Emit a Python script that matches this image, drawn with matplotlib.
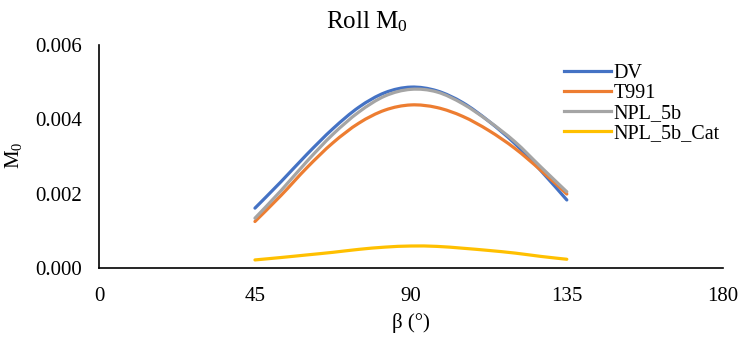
"""
Roll M0 vs beta: four smoothed series drawn Excel-style.
"""
import numpy as np
import matplotlib
matplotlib.use("Agg")
import matplotlib.pyplot as plt
from matplotlib.path import Path
from matplotlib.patches import PathPatch
from matplotlib.lines import Line2D

plt.rcParams["font.family"] = ["Liberation Serif", "DejaVu Serif"]
plt.rcParams["mathtext.fontset"] = "custom"
plt.rcParams["mathtext.rm"] = "Liberation Serif"
plt.rcParams["mathtext.it"] = "Liberation Serif:italic"

# --- data -----------------------------------------------------------------
beta = [45, 52.5, 60, 67.5, 75, 82.5, 90, 97.5, 105, 112.5, 120, 127.5, 135]
dv        = [0.00161, 0.00232, 0.00306, 0.00375, 0.00433, 0.00472, 0.00487,
             0.00477, 0.00445, 0.00395, 0.00335, 0.00262, 0.00183]
t991      = [0.00125, 0.00195, 0.00270, 0.00337, 0.00390, 0.00425, 0.00439,
             0.00432, 0.00408, 0.00370, 0.00322, 0.00263, 0.00199]
npl_5b    = [0.00134, 0.00208, 0.00287, 0.00360, 0.00420, 0.00463, 0.00481,
             0.00474, 0.00442, 0.00395, 0.00340, 0.00272, 0.00205]
npl_5b_ct = [0.000215, 0.00028, 0.00035, 0.00042, 0.00050, 0.00056, 0.00059,
             0.00058, 0.00053, 0.00047, 0.00040, 0.00031, 0.000233]

series = [("DV", dv, "#4472C4"),
          ("T991", t991, "#ED7D31"),
          ("NPL_5b", npl_5b, "#A5A5A5"),
          ("NPL_5b_Cat", npl_5b_ct, "#FFC000")]


def smooth_path(x, y):
    # Bezier through the points, same rule Excel uses for "smoothed line"
    pts = np.column_stack([x, y]).astype(float)
    n = len(pts)
    verts, codes = [pts[0]], [Path.MOVETO]
    for i in range(n - 1):
        p0 = pts[i - 1] if i > 0 else pts[i]
        p1, p2 = pts[i], pts[i + 1]
        p3 = pts[i + 2] if i + 2 < n else pts[i + 1]
        verts += [p1 + (p2 - p0) / 6, p2 - (p3 - p1) / 6, p2]
        codes += [Path.CURVE4] * 3
    return Path(verts, codes)


fig = plt.figure(figsize=(7.39, 3.37), dpi=100)
ax = fig.add_axes([0.134, 0.205, 0.844, 0.661])

handles = []
for name, vals, col in series:
    ax.add_patch(PathPatch(smooth_path(beta, vals), fill=False, edgecolor=col,
                           lw=2.3, capstyle="round", transform=ax.transData))
    handles.append(Line2D([], [], color=col, lw=2.3, label=name))

ax.set_xlim(0, 180)
ax.set_ylim(0, 0.006)
ax.set_xticks([0, 45, 90, 135, 180])
ax.set_yticks([0, 0.002, 0.004, 0.006])
ax.set_yticklabels(["0.000", "0.002", "0.004", "0.006"])
ax.tick_params(axis="y", length=0, labelsize=15, pad=12)
ax.tick_params(axis="x", length=0, labelsize=15, pad=14)
for s in ["top", "right"]:
    ax.spines[s].set_visible(False)
for s in ["left", "bottom"]:
    ax.spines[s].set_linewidth(1.2)

ax.set_xlabel("β (°)", fontsize=15, labelpad=5)
fig.text(14 / 739, 1 - 155 / 337, "M$_0$", rotation=90, ha="center",
         va="center", fontsize=15)
fig.text(0.497, 0.935, "Roll M$_0$", ha="center", va="center", fontsize=18)

fig.legend(handles=handles, loc="upper left", bbox_to_anchor=(0.75, 0.84),
           frameon=False, fontsize=14.5, handlelength=2.3, handletextpad=0.15,
           labelspacing=0.05, borderpad=0)

fig.savefig("out.png", dpi=100)
